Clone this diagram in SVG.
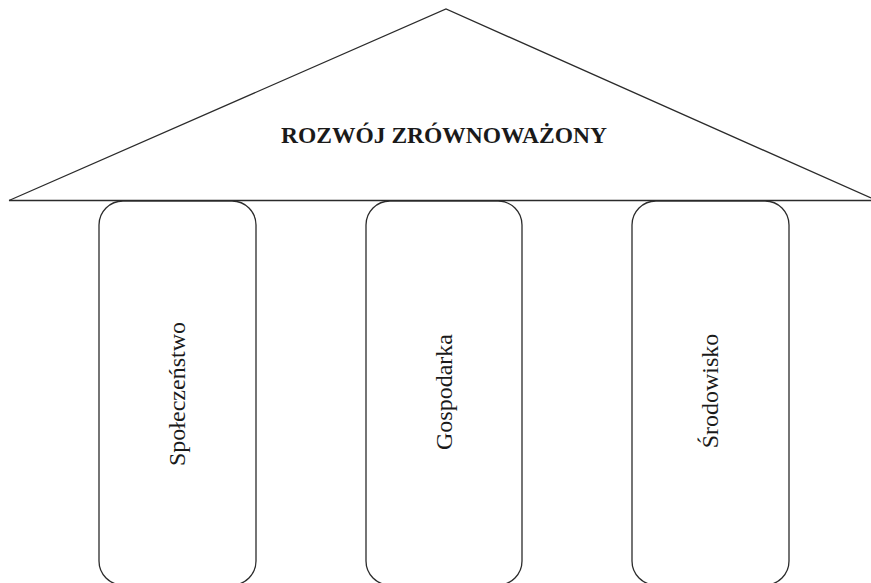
<svg xmlns="http://www.w3.org/2000/svg" width="871" height="583" viewBox="0 0 871 583">
  <style>
    .line { fill: none; stroke: #2b2b2b; stroke-width: 1.3; }
    .pillar { fill: #ffffff; stroke: #2b2b2b; stroke-width: 1.3; }
    .roof-label { font-family: "Liberation Serif", "Times New Roman", serif; font-weight: bold; font-size: 23.5px; fill: #1a1a1a; text-anchor: middle; }
    .pillar-label { font-family: "Liberation Serif", "Times New Roman", serif; font-size: 24px; fill: #1a1a1a; text-anchor: middle; }
  </style>
  <rect width="871" height="583" fill="#ffffff"/>

  <!-- Roof: triangle with base line -->
  <g id="roof">
    <polyline class="line" points="9,200.5 446,9 871,198"/>
    <line class="line" x1="9" y1="200.5" x2="871" y2="200.5"/>
    <text class="roof-label" x="444" y="143">ROZWÓJ ZRÓWNOWAŻONY</text>
  </g>

  <!-- Pillars -->
  <g id="pillar-spoleczenstwo">
    <rect class="pillar" x="99" y="201" width="157" height="384" rx="24" ry="24"/>
    <text class="pillar-label" transform="translate(185,394) rotate(-90)">Społeczeństwo</text>
  </g>
  <g id="pillar-gospodarka">
    <rect class="pillar" x="366" y="201" width="156" height="384" rx="24" ry="24"/>
    <text class="pillar-label" transform="translate(452,392) rotate(-90)">Gospodarka</text>
  </g>
  <g id="pillar-srodowisko">
    <rect class="pillar" x="632" y="201" width="157" height="384" rx="24" ry="24"/>
    <text class="pillar-label" transform="translate(718,391) rotate(-90)">Środowisko</text>
  </g>

  <g id="connectors"/>
</svg>
